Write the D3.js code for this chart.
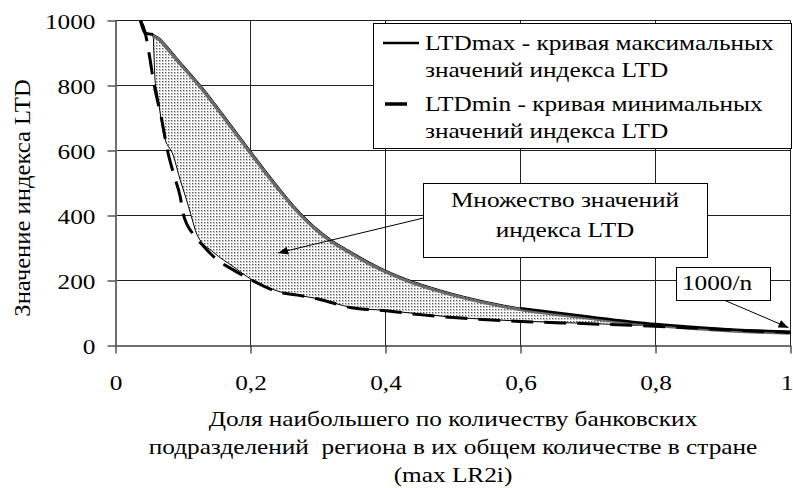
<!DOCTYPE html>
<html>
<head>
<meta charset="utf-8">
<script src="https://cdn.jsdelivr.net/npm/d3@7"></script>
<style>
  body { margin: 0; background: #fff; }
  svg { display: block; }
  text { font-family: "Liberation Serif", "Times New Roman", serif; font-size: 22px; fill: #000; white-space: pre; }
</style>
</head>
<body>
<div id="chart"></div>
<script>
// x = доля max LR2i, y = индекс LTD
const ltdMax = [[0.037, 1000], [0.044, 961], [0.056, 957], [0.066, 945], [0.078, 918], [0.092, 883],
    [0.108, 845], [0.128, 797], [0.165, 697], [0.2, 600], [0.237, 500], [0.274, 409], [0.296, 365],
    [0.319, 327], [0.35, 288], [0.388, 244], [0.43, 206], [0.481, 171], [0.55, 135], [0.6, 115],
    [0.7, 89], [0.8, 66], [0.9, 51], [1.0, 42]];
const ltdMin = [[0.037, 1000], [0.044, 962], [0.05, 895], [0.057, 805], [0.068, 700], [0.077, 600],
    [0.088, 515], [0.096, 457], [0.1, 408], [0.116, 340], [0.129, 309], [0.151, 263], [0.17, 238],
    [0.2, 203], [0.244, 163], [0.27, 155], [0.3, 143], [0.35, 116], [0.4, 107], [0.45, 95],
    [0.5, 86], [0.6, 74], [0.7, 67], [0.8, 59], [0.9, 49], [1.0, 40]];
// нижняя граница заштрихованной области
const fillLower = [[0.056, 957], [0.059, 807], [0.062, 777], [0.067, 703], [0.071, 653], [0.086, 582],
    [0.096, 508], [0.105, 450], [0.111, 407], [0.121, 340], [0.145, 287], [0.175, 242], [0.2, 205],
    [0.244, 165], [0.3, 144], [0.35, 117], [0.4, 108], [0.5, 87], [0.6, 75], [0.7, 68], [0.8, 60],
    [0.9, 50], [1.0, 41]];

const xTicks = [0, 0.2, 0.4, 0.6, 0.8, 1];
const yTicks = [0, 200, 400, 600, 800, 1000];
const yTitle = "Значение индекса LTD";
const xTitle = ["Доля наибольшего по количеству банковских",
    "подразделений  региона в их общем количестве в стране",
    "(max LR2i)"];
const legendItems = [
    { lines: ["LTDmax - кривая максимальных", "значений индекса LTD"], dash: null },
    { lines: ["LTDmin - кривая минимальных", "значений индекса LTD"], dash: "22,11" }
];
const setLabel = ["Множество значений", "индекса LTD"];
const setArrowTip = [0.241, 285];
const nLabel = "1000/n";
const nArrowTip = [0.997, 55];

const width = 793, height = 488;
const sx = 1.15; // текст в оригинале растянут по горизонтали

const x = d3.scaleLinear().domain([0, 1]).range([115.5, 790.5]);
const y = d3.scaleLinear().domain([0, 1000]).range([345.5, 20.5]);

const svg = d3.select("#chart").append("svg")
    .attr("width", width)
    .attr("height", height);

const defs = svg.append("defs");
const pat = defs.append("pattern")
    .attr("id", "dots")
    .attr("patternUnits", "userSpaceOnUse")
    .attr("width", 3)
    .attr("height", 3);
pat.append("rect").attr("width", 3).attr("height", 3).attr("fill", "#fff");
pat.append("rect").attr("width", 2).attr("height", 2).attr("fill", "#c8c8c8");
pat.append("rect").attr("width", 1).attr("height", 1).attr("fill", "#555");

defs.append("marker")
    .attr("id", "arrow")
    .attr("markerUnits", "userSpaceOnUse")
    .attr("markerWidth", 10)
    .attr("markerHeight", 8)
    .attr("refX", 10)
    .attr("refY", 4)
    .attr("orient", "auto")
    .append("path")
    .attr("d", "M0,0 L10,4 L0,8 Z")
    .attr("fill", "#000");

function addText(g, tx, ty, str, anchor) {
    return g.append("text")
        .attr("transform", `translate(${tx},${ty}) scale(${sx},1)`)
        .attr("text-anchor", anchor || "start")
        .text(str);
}

// сетка
svg.append("g")
    .selectAll("line")
    .data(yTicks.filter(d => d > 0))
    .join("line")
    .attr("x1", x(0))
    .attr("x2", x(1))
    .attr("y1", d => y(d))
    .attr("y2", d => y(d))
    .attr("stroke", "#222")
    .attr("stroke-width", 1);

svg.append("g")
    .selectAll("line")
    .data(xTicks.filter(d => d > 0))
    .join("line")
    .attr("x1", d => x(d))
    .attr("x2", d => x(d))
    .attr("y1", y(0))
    .attr("y2", y(1000))
    .attr("stroke", "#222")
    .attr("stroke-width", 1);

// оси
const xAxis = svg.append("g")
    .attr("transform", `translate(0,${y(0)})`)
    .call(d3.axisBottom(x).tickValues(xTicks).tickSizeInner(8).tickSizeOuter(0)
        .tickFormat(d => d3.format("~g")(d).replace(".", ",")));
xAxis.select(".domain").attr("stroke", "#707070").attr("stroke-width", 2);
xAxis.selectAll(".tick line").attr("stroke", "#000");
xAxis.selectAll(".tick text")
    .attr("font-family", null)
    .attr("font-size", null)
    .attr("y", 0)
    .attr("dy", 0)
    .attr("transform", d => `translate(${d === 1 ? -4 : 0},44) scale(${sx},1)`);

const yAxis = svg.append("g")
    .attr("transform", `translate(${x(0)},0)`)
    .call(d3.axisLeft(y).tickValues(yTicks).tickSizeInner(8).tickSizeOuter(0)
        .tickFormat(d3.format("d")));
yAxis.select(".domain").attr("stroke", "#707070").attr("stroke-width", 2);
yAxis.selectAll(".tick line").attr("stroke", "#000");
yAxis.selectAll(".tick text")
    .attr("font-family", null)
    .attr("font-size", null)
    .attr("x", 0)
    .attr("dy", 0)
    .attr("transform", `translate(-20,7.5) scale(${sx},1)`);

// область значений
const curve = d3.line()
    .x(d => x(d[0]))
    .y(d => y(d[1]))
    .curve(d3.curveMonotoneX);

const upperPath = curve(ltdMax.slice(2));
const lowerPath = curve(fillLower.slice().reverse()).replace(/^M/, "L");
svg.append("path")
    .attr("d", upperPath + lowerPath + "Z")
    .attr("fill", "url(#dots)")
    .attr("stroke", "#000")
    .attr("stroke-width", 1);

// серая толстая линия LTDmax чуть ниже тонкой границы области
svg.append("path")
    .attr("d", curve(ltdMax.slice(2)))
    .attr("transform", "translate(-1,1.5)")
    .attr("fill", "none")
    .attr("stroke", "#6a6a6a")
    .attr("stroke-width", 3);

svg.append("path")
    .attr("d", curve(ltdMax.slice(0, 3)))
    .attr("fill", "none")
    .attr("stroke", "#000")
    .attr("stroke-width", 3);

svg.append("path")
    .attr("d", curve(ltdMax.filter(d => d[0] >= 0.6)))
    .attr("fill", "none")
    .attr("stroke", "#000")
    .attr("stroke-width", 2.5);

svg.append("path")
    .attr("d", curve(ltdMin))
    .attr("fill", "none")
    .attr("stroke", "#000")
    .attr("stroke-width", 3)
    .attr("stroke-dasharray", "22,11");

// подписи осей
svg.append("text")
    .attr("transform", "translate(30,198) rotate(-90) scale(1.12,1.05)")
    .attr("text-anchor", "middle")
    .text(yTitle);

xTitle.forEach((t, i) => {
    addText(svg, (x(0) + x(1)) / 2, 426 + i * 28, t, "middle");
});

// легенда
const legend = svg.append("g");
legend.append("rect")
    .attr("x", 373.5)
    .attr("y", 23.5)
    .attr("width", 418)
    .attr("height", 125)
    .attr("fill", "#fff")
    .attr("stroke", "#000");

legendItems.forEach((item, i) => {
    const by = 50 + i * 61;
    if (item.dash) {
        legend.append("line")
            .attr("x1", 385).attr("x2", 407)
            .attr("y1", by - 7).attr("y2", by - 7)
            .attr("stroke", "#000").attr("stroke-width", 3.5);
    } else {
        legend.append("line")
            .attr("x1", 383).attr("x2", 419)
            .attr("y1", by - 7).attr("y2", by - 7)
            .attr("stroke", "#000").attr("stroke-width", 2.5);
    }
    item.lines.forEach((t, j) => addText(legend, 425, by + j * 27, t));
});

// выноски
svg.append("line")
    .attr("x1", 423.5).attr("y1", 218)
    .attr("x2", x(setArrowTip[0])).attr("y2", y(setArrowTip[1]))
    .attr("stroke", "#000")
    .attr("marker-end", "url(#arrow)");

svg.append("line")
    .attr("x1", 725).attr("y1", 300.5)
    .attr("x2", x(nArrowTip[0])).attr("y2", y(nArrowTip[1]))
    .attr("stroke", "#000")
    .attr("marker-end", "url(#arrow)");

svg.append("rect")
    .attr("x", 423.5).attr("y", 183.5)
    .attr("width", 284).attr("height", 74)
    .attr("fill", "#fff").attr("stroke", "#000");
setLabel.forEach((t, i) => addText(svg, 565, 207 + i * 30, t, "middle"));

svg.append("rect")
    .attr("x", 676.5).attr("y", 267.5)
    .attr("width", 94).attr("height", 33)
    .attr("fill", "#fff").attr("stroke", "#000");
addText(svg, 717, 290, nLabel, "middle");
</script>
</body>
</html>
